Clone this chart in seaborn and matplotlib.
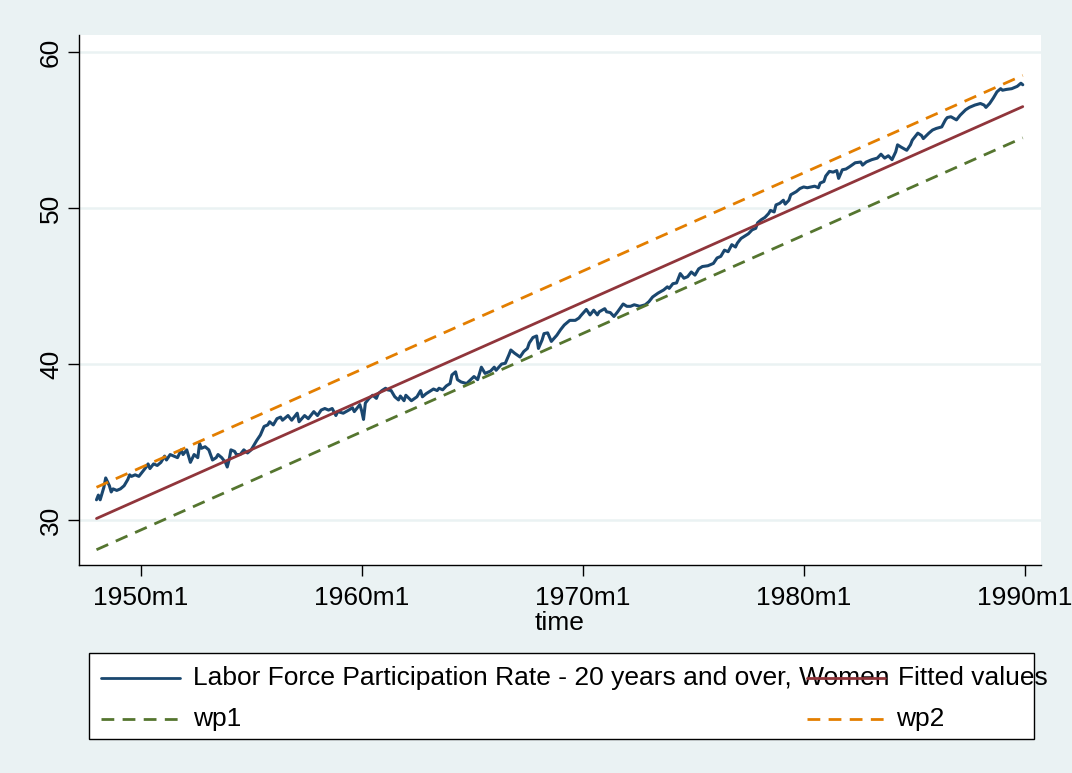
import matplotlib
matplotlib.use("Agg")
import matplotlib.pyplot as plt
import seaborn as sns
import pandas as pd
from matplotlib.lines import Line2D
from matplotlib.patches import Rectangle

# ---- data (Stata monthly index: 0 = 1960m1) ----
months = [-144, -143, -142, -140, -139, -137, -136, -135, -133, -131, -129, -127, -126, -125, -123,
          -121, -119, -117, -116, -115, -113, -111, -109, -107, -106, -104, -102, -100, -98, -97,
          -95, -93, -91, -89, -88, -87, -85, -83, -81, -79, -78, -76, -74, -73, -72, -71, -69, -68,
          -66, -64, -62, -60, -59, -57, -55, -53, -51, -50, -48, -46,
          -44, -43, -40, -38, -35, -34, -31, -29, -26, -24, -22, -20, -18, -16, -14, -13, -10, -7,
          -5, -4, -1, 0, 1, 2, 4, 6, 8, 9, 11, 13, 14, 16, 18, 20, 21, 23, 24, 27, 30, 32, 33, 35,
          37, 39, 41, 42, 44, 46, 48, 49, 51, 52, 54,
          57, 61, 63, 65, 67, 70, 72, 73, 76, 78, 80, 81, 83, 86, 88, 90, 91, 93, 95, 96, 98, 99,
          101, 103, 106, 108, 110, 113, 116, 118, 119, 122, 124, 126, 128, 129, 132, 133, 135, 137,
          139, 142, 144, 146, 148, 151, 154, 156,
          158, 161, 164, 166, 167, 169, 171, 173, 175, 177, 179, 181, 183, 185, 188, 191, 193, 195,
          197, 199, 201, 203, 204, 206, 208, 210, 212, 214, 215, 217, 219, 221, 222, 224, 225, 227,
          229, 230, 232, 233, 236, 238, 240, 242, 244, 246, 248, 249, 251, 252, 254, 256,
          258, 259, 261, 263, 265, 268, 271, 272, 274, 277, 280, 282, 284, 286, 288, 290, 291, 293,
          296, 298, 299, 302, 304, 305, 308, 310, 312, 315, 317, 318, 320, 323, 325, 328, 330, 333,
          336, 338, 339, 341, 343, 345, 347, 348, 350, 353, 355, 356, 358, 359]
lfpr = [31.3, 31.6, 31.3, 32.1, 32.7, 32.2, 31.8, 32.0, 31.9, 32.0, 32.2, 32.6, 32.9, 32.8, 32.9,
        32.8, 33.1, 33.4, 33.6, 33.3, 33.6, 33.5, 33.7, 34.1, 33.85, 34.2, 34.1, 34.0, 34.5, 34.2,
        34.5, 33.7, 34.2, 34.0, 34.9, 34.6, 34.7, 34.5, 33.85, 34.0, 34.2, 34.0, 33.7, 33.4, 33.85,
        34.5, 34.4, 34.2, 34.2, 34.5, 34.3, 34.5, 34.7, 35.1, 35.45, 36.0, 36.1, 36.3, 36.1, 36.5,
        36.6, 36.4, 36.7, 36.4, 36.85, 36.3, 36.7, 36.5, 36.95, 36.7, 37.05, 37.15, 37.05, 37.15,
        36.7, 36.95, 36.85, 37.05, 37.2, 36.95, 37.4, 37.0, 36.45, 37.5, 37.8, 38.0, 37.8, 38.1,
        38.3, 38.45, 38.35, 38.3, 37.9, 37.7, 37.95, 37.65, 38.0, 37.65, 37.9, 38.3, 37.9, 38.1,
        38.25, 38.4, 38.3, 38.45, 38.35, 38.6, 38.75, 39.3, 39.5, 39.0, 38.85,
        38.75, 39.2, 39.0, 39.8, 39.4, 39.55, 39.8, 39.6, 40.0, 40.05, 40.6, 40.9, 40.7, 40.45,
        40.8, 41.0, 41.35, 41.7, 41.8, 41.0, 41.55, 41.95, 42.0, 41.45, 41.85, 42.2, 42.5, 42.8,
        42.8, 42.95, 43.1, 43.5, 43.15, 43.45, 43.15, 43.35, 43.55, 43.35, 43.3, 43.05, 43.35,
        43.85, 43.7, 43.7, 43.8, 43.7, 43.8, 44.0,
        44.3, 44.55, 44.75, 44.95, 44.85, 45.15, 45.2, 45.8, 45.5, 45.6, 45.9, 45.7, 46.1, 46.25,
        46.3, 46.45, 46.8, 46.9, 47.3, 47.2, 47.65, 47.5, 47.75, 48.05, 48.2, 48.35, 48.6, 48.7,
        49.05, 49.25, 49.4, 49.65, 49.85, 49.75, 50.2, 50.3, 50.5, 50.25, 50.5, 50.85, 51.05,
        51.25, 51.35, 51.3, 51.35, 51.4, 51.3, 51.6, 51.7, 52.05, 52.35, 52.3,
        52.4, 51.9, 52.45, 52.5, 52.65, 52.9, 52.95, 52.75, 52.95, 53.1, 53.2, 53.45, 53.2, 53.35,
        53.1, 53.6, 54.05, 53.9, 53.7, 54.05, 54.35, 54.8, 54.65, 54.45, 54.8, 55.0, 55.1, 55.2,
        55.65, 55.8, 55.85, 55.65, 55.95, 56.3, 56.45, 56.6, 56.7, 56.6, 56.45, 56.7, 57.05,
        57.45, 57.65, 57.55, 57.6, 57.65, 57.75, 57.8, 58.0, 57.9]
fit_months = [-144, 359]
fitted = [30.1, 56.5]
wp1 = [28.1, 54.5]
wp2 = [32.1, 58.5]
xtick_months = [-120, 0, 120, 240, 360]
xtick_labels = ["1950m1", "1960m1", "1970m1", "1980m1", "1990m1"]
yticks = [30, 40, 50, 60]
legend_labels = ["Labor Force Participation Rate - 20 years and over, Women",
                 "Fitted values", "wp1", "wp2"]

# ---- style ----
sns.set_theme(style="white")
plt.rcParams['font.family'] = ['Liberation Sans', 'DejaVu Sans']

BG = "#EAF2F3"
NAVY = "#1A476F"
MAROON = "#90353B"
GREEN = "#55752F"
ORANGE = "#E37E00"
FS = 19
LW = 2.0
DASH = (0, (4.6, 3.0))

W, H = 1072, 773
fig = plt.figure(figsize=(W / 100, H / 100), dpi=100, facecolor=BG)
ax = fig.add_axes([79 / W, 1 - 565 / H, (1041 - 79) / W, (565 - 35) / H])
ax.set_facecolor("white")

df = pd.DataFrame({"time": months, "lfpr": lfpr})
dfit = pd.DataFrame({"time": fit_months, "fitted": fitted, "wp1": wp1, "wp2": wp2})

sns.lineplot(data=df, x="time", y="lfpr", ax=ax, color=NAVY, lw=2.2, zorder=3)
sns.lineplot(data=dfit, x="time", y="fitted", ax=ax, color=MAROON, lw=LW, zorder=4)
sns.lineplot(data=dfit, x="time", y="wp1", ax=ax, color=GREEN, lw=LW, linestyle=DASH, zorder=5)
sns.lineplot(data=dfit, x="time", y="wp2", ax=ax, color=ORANGE, lw=LW, linestyle=DASH, zorder=6)

ax.set_xlim(-153.5, 368.9)
ax.set_ylim(27.12, 61.09)
ax.set_xticks(xtick_months, xtick_labels)
ax.set_yticks(yticks, [str(v) for v in yticks])
ax.tick_params(axis="both", which="major", bottom=True, left=True, length=8, width=1,
               color="black", labelsize=FS, direction="out", labelcolor="black")
ax.tick_params(axis="x", pad=7)
ax.tick_params(axis="y", pad=3.5)
plt.setp(ax.get_yticklabels(), rotation=90, va="center", ha="right")
ax.grid(axis="y", color=BG, lw=1.8, zorder=0)
ax.grid(axis="x", visible=False)
ax.set_axisbelow(True)
for s in ["top", "right"]:
    ax.spines[s].set_visible(False)
for s in ["left", "bottom"]:
    ax.spines[s].set_color("black")
    ax.spines[s].set_linewidth(1)
ax.set_xlabel("time", fontsize=FS, labelpad=1, color="black")
ax.set_ylabel("")

# ---- legend (Stata-style two-column box) ----
def fx(px):
    return px / W

def fy(py):
    return 1 - py / H

fig.add_artist(Rectangle((fx(89), fy(739)), fx(1034) - fx(89), fy(653) - fy(739),
                         transform=fig.transFigure, facecolor="white", edgecolor="black",
                         lw=1, zorder=1))
entries = [
    (101, 180, 193, 678, NAVY, "-", legend_labels[0]),
    (807, 885, 898, 678, MAROON, "-", legend_labels[1]),
    (101, 180, 193, 719, GREEN, DASH, legend_labels[2]),
    (807, 885, 896, 719, ORANGE, DASH, legend_labels[3]),
]
z = 2
for x0, x1, tx, yy, col, ls, lab in entries:
    fig.add_artist(Line2D([fx(x0), fx(x1)], [fy(yy), fy(yy)], transform=fig.transFigure,
                          color=col, lw=LW, linestyle=ls, zorder=z + 1))
    fig.text(fx(tx), fy(yy), lab, fontsize=FS, ha="left", va="center", color="black", zorder=z)
    z += 2

fig.savefig("out.png", dpi=100, facecolor=BG)
